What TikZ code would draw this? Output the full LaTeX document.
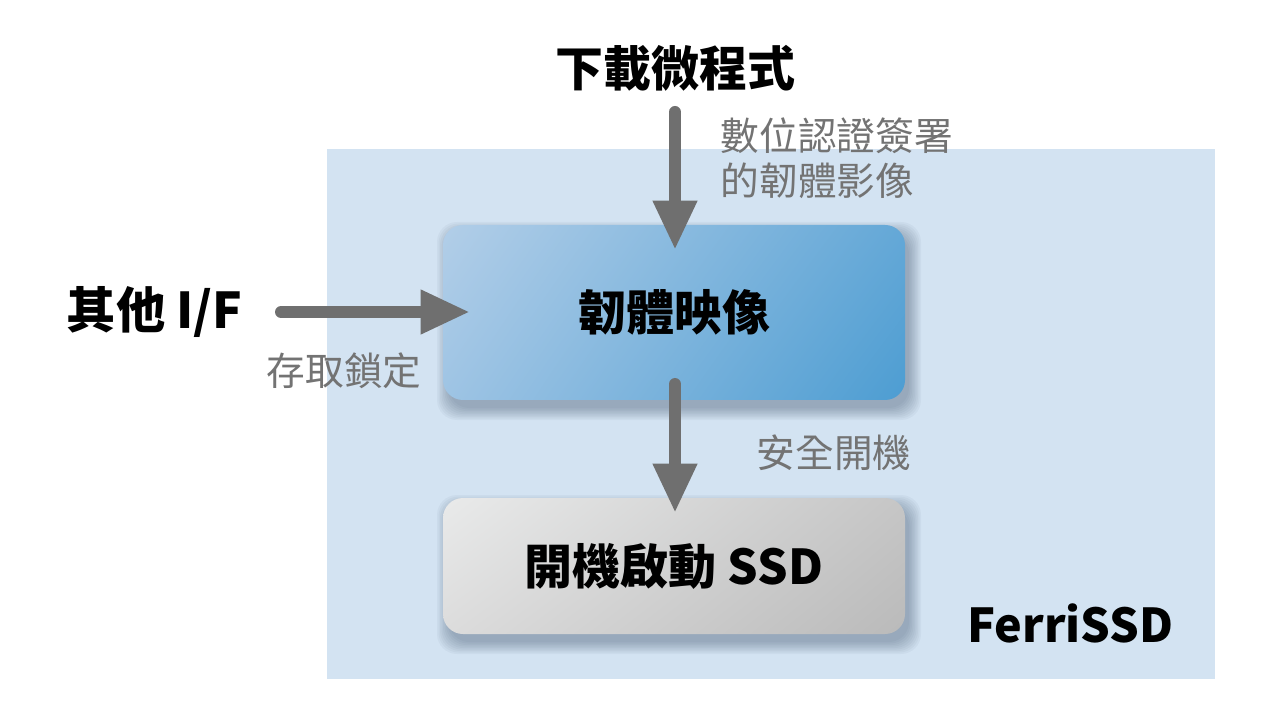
\documentclass[tikz,border=0pt]{standalone}
\usepackage{fontspec}
\setmainfont{Noto Sans CJK TC}
\usetikzlibrary{arrows.meta,shadings}
\definecolor{panel}{HTML}{D3E3F2}
\definecolor{arrowgray}{HTML}{6F6F6F}
\definecolor{labelgray}{HTML}{737373}
\definecolor{bUL}{HTML}{B2CEE8}
\definecolor{bLL}{HTML}{9EC4E4}
\definecolor{bUR}{HTML}{64A8D7}
\definecolor{bLR}{HTML}{4D9DD2}
\definecolor{gUL}{HTML}{E9EAEA}
\definecolor{gLL}{HTML}{DCDCDC}
\definecolor{gUR}{HTML}{C6C6C6}
\definecolor{gLR}{HTML}{BABABA}
\definecolor{shadowc}{HTML}{2A3F58}
\tikzset{
  box/.style={rounded corners=15pt, minimum width=346.5pt, inner sep=0pt},
  softshadow/.style={fill=shadowc, opacity=0.045},
  bigtext/.style={font=\bfseries\fontsize{36}{40}\selectfont, text=black},
  graylabel/.style={font=\fontsize{29}{34}\selectfont, text=labelgray},
  flow/.style={draw=arrowgray, line width=9pt, line cap=round,
    -{Triangle[length=37pt,width=31pt]}},
}
\begin{document}
\begin{tikzpicture}[x=0.75pt,y=-0.75pt]
\useasboundingbox (0,0) rectangle (1280,712);
\fill[white] (0,0) rectangle (1280,712);
\fill[panel] (327,149) rectangle (1215,679);

% soft shadows of the two boxes
\foreach \e in {0,1.5,...,12} {
  \fill[softshadow, rounded corners=15pt] (449-\e,234-\e) rectangle (909+\e,408+\e);
  \fill[softshadow, rounded corners=15pt] (449-\e,507-\e) rectangle (909+\e,642+\e);
}

\node[box, minimum height=131.25pt,
  upper left=bUL, lower left=bLL, upper right=bUR, lower right=bLR]
  (fw) at (674,312.5) {};
\node[bigtext] (fwt) at (fw.center) {韌體映像};

\node[box, minimum height=102pt,
  upper left=gUL, lower left=gLL, upper right=gUR, lower right=gLR]
  (boot) at (674,566) {};
\node[bigtext] (boott) at (boot.center) {開機啟動 SSD};

\node[bigtext] (dl) at (675,68) {下載微程式};
\node[font=\bfseries\fontsize{37}{40}\selectfont, anchor=west] (oif) at (62,312) {其他 I/F};
\node[font=\bfseries\fontsize{35}{40}\selectfont, anchor=east] (ferri) at (1178,623) {FerriSSD};

\node[graylabel, anchor=west, align=left] (sig) at (716,158) {數位認證簽署\\的韌體影像};
\node[graylabel, anchor=west] (lock) at (262,371) {存取鎖定};
\node[graylabel, anchor=west] (sec) at (752,453) {安全開機};

\coordinate (a1s) at (675,112);
\coordinate (a1e) at (675,250);
\coordinate (a2s) at (281,312);
\coordinate (a2e) at (470,312);
\coordinate (a3s) at (675,384);
\coordinate (a3e) at (675,513);

\draw[flow] (a1s) -- (a1e);
\draw[flow] (a2s) -- (a2e);
\draw[flow] (a3s) -- (a3e);
\end{tikzpicture}
\end{document}
